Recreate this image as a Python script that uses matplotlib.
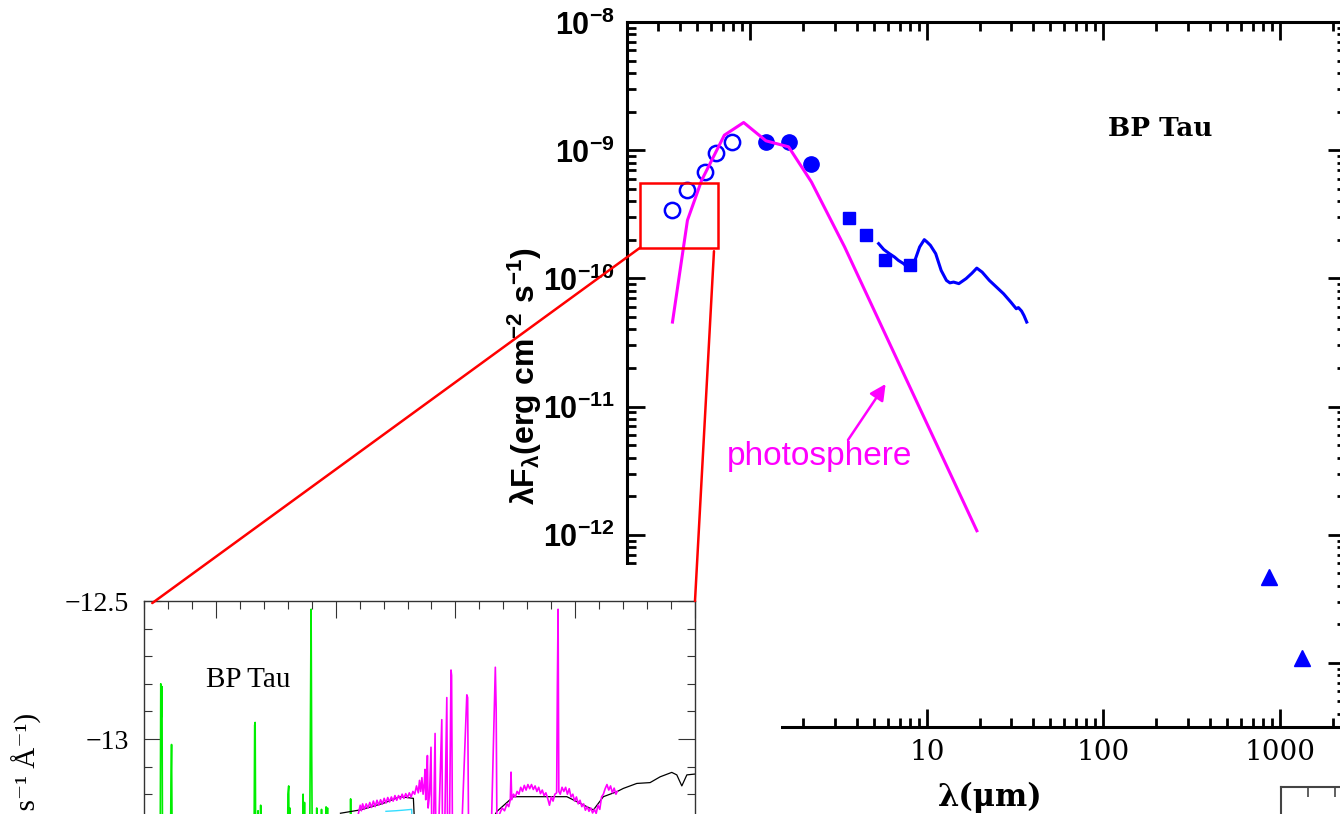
import numpy as np
import matplotlib.pyplot as plt
from matplotlib.patches import Rectangle, ConnectionPatch
from matplotlib.ticker import LogLocator, FuncFormatter, MultipleLocator, NullFormatter

plt.rcParams['mathtext.fontset'] = 'custom'
plt.rcParams['mathtext.rm'] = 'Liberation Sans:bold'
plt.rcParams['mathtext.it'] = 'Liberation Sans:bold'
plt.rcParams['mathtext.bf'] = 'Liberation Sans:bold'

# --- SED of BP Tau: wavelength (micron), lambda*F_lambda (erg cm^-2 s^-1) ---
opt_wl = [0.36, 0.44, 0.55, 0.64, 0.79]              # UBVRI
opt_flux = [3.40e-10, 4.87e-10, 6.76e-10, 9.53e-10, 1.15e-9]
nir_wl = [1.23, 1.65, 2.2]                            # JHK
nir_flux = [1.16e-9, 1.16e-9, 7.87e-10]
irac_wl = [3.6, 4.5, 5.8, 8.0]
irac_flux = [2.96e-10, 2.17e-10, 1.38e-10, 1.28e-10]
mm_wl = [870, 1330]
mm_flux = [4.72e-13, 1.10e-13]

# IRS spectrum
irs_wl = [5.33, 5.7, 6.13, 6.56, 6.9, 7.38, 7.65, 7.91, 8.2, 8.49, 9.10, 9.67,
          10.0, 10.47, 11.22, 12.05, 12.91, 13.5, 14.17, 15.18, 16.68, 18.0,
          19.18, 20.56, 22.6, 24.8, 27.2, 29.9, 32.1, 33.0, 34.4, 35.5, 36.8]
irs_logf = [-9.729, -9.775, -9.807, -9.834, -9.860, -9.885, -9.905, -9.924,
            -9.900, -9.873, -9.755, -9.698, -9.715, -9.742, -9.807, -9.938,
            -10.016, -10.035, -10.029, -10.041, -10.002, -9.960, -9.920, -9.951,
            -10.016, -10.068, -10.120, -10.185, -10.237, -10.228, -10.255,
            -10.290, -10.341]

# stellar photosphere
phot_wl = [0.362, 0.44, 0.53, 0.712, 0.916, 1.226, 1.647, 2.218, 3.42, 19.2]
phot_logf = [-10.341, -9.547, -9.234, -8.883, -8.784, -8.927, -8.974, -9.248,
             -9.755, -11.969]

# --- spectra in the inset: (wavelength in A, log F_lambda) ---
uv_spec = [(1400, -13.45), (1530, -13.45), (1536, -13.30), (1540, -12.80),
           (1545, -12.92), (1550, -12.81), (1555, -13.45), (1620, -13.45),
           (1625, -13.17), (1630, -13.02), (1636, -13.45), (2315, -13.45),
           (2320, -13.27), (2324, -12.95), (2328, -12.94), (2333, -13.45),
           (2348, -13.45), (2352, -13.26), (2356, -13.45), (2370, -13.45),
           (2374, -13.24), (2378, -13.45), (2596, -13.45), (2602, -13.20),
           (2608, -13.17), (2612, -13.40), (2618, -13.25), (2622, -13.45),
           (2627, -13.30), (2632, -13.45), (2722, -13.45), (2728, -13.20),
           (2734, -13.40), (2740, -13.23), (2745, -13.45), (2782, -13.45),
           (2788, -13.04), (2795, -12.53), (2800, -13.05), (2806, -13.45),
           (2838, -13.45), (2842, -13.25), (2848, -13.45), (2876, -13.45),
           (2882, -13.255), (2888, -13.45), (2915, -13.45), (2920, -13.246),
           (2926, -13.40), (2932, -13.25), (2936, -13.45), (3120, -13.45),
           (3125, -13.217), (3131, -13.45), (3160, -13.45)]

opt_spec = [(3190, -13.27), (3205, -13.24), (3215, -13.26), (3225, -13.235),
            (3240, -13.255), (3255, -13.235), (3270, -13.25), (3285, -13.23),
            (3300, -13.248), (3315, -13.225), (3330, -13.245), (3345, -13.222),
            (3360, -13.24), (3375, -13.22), (3390, -13.236), (3405, -13.215),
            (3420, -13.232), (3435, -13.212), (3450, -13.228), (3465, -13.21),
            (3480, -13.225), (3495, -13.205), (3510, -13.222), (3525, -13.205),
            (3540, -13.218), (3555, -13.2), (3570, -13.215), (3585, -13.198),
            (3600, -13.212), (3615, -13.195), (3630, -13.21), (3645, -13.19),
            (3660, -13.2), (3675, -13.17), (3690, -13.195), (3700, -13.15),
            (3710, -13.19), (3720, -13.14), (3730, -13.2), (3740, -13.16),
            (3746, -13.11), (3752, -13.22), (3760, -13.15), (3766, -13.06),
            (3772, -13.25), (3784, -13.2), (3796, -13.03), (3802, -13.30),
            (3818, -13.3), (3830, -12.98), (3836, -13.32), (3860, -13.33),
            (3886, -12.93), (3892, -13.33), (3910, -13.34), (3928, -12.85),
            (3934, -13.35), (3950, -13.35), (3963, -12.75), (3968, -12.77),
            (3975, -13.35), (4000, -13.36), (4050, -13.36), (4095, -12.84),
            (4102, -12.85), (4110, -13.36), (4200, -13.34), (4300, -13.32),
            (4333, -12.74), (4340, -12.89), (4346, -13.30), (4370, -13.27),
            (4390, -13.25), (4410, -13.26), (4430, -13.235), (4445, -13.245),
            (4458, -13.22), (4464, -13.12), (4470, -13.22), (4485, -13.2),
            (4500, -13.21), (4515, -13.19), (4530, -13.2), (4545, -13.175),
            (4560, -13.19), (4575, -13.168), (4590, -13.185), (4605, -13.165),
            (4620, -13.18), (4635, -13.165), (4650, -13.183), (4665, -13.17),
            (4680, -13.19), (4695, -13.175), (4710, -13.198), (4725, -13.185),
            (4740, -13.205), (4755, -13.195), (4770, -13.215), (4785, -13.24),
            (4800, -13.21), (4815, -13.225), (4830, -13.2), (4845, -13.195),
            (4851, -12.81), (4857, -12.53), (4863, -13.19), (4875, -13.2),
            (4890, -13.175), (4905, -13.19), (4920, -13.175), (4935, -13.2),
            (4950, -13.18), (4965, -13.21), (4980, -13.2), (4995, -13.225),
            (5010, -13.21), (5025, -13.235), (5040, -13.222), (5055, -13.245),
            (5070, -13.235), (5085, -13.258), (5100, -13.245), (5115, -13.262),
            (5130, -13.25), (5145, -13.268), (5160, -13.255), (5175, -13.27),
            (5190, -13.24), (5205, -13.255), (5220, -13.21), (5235, -13.2),
            (5250, -13.18), (5265, -13.165), (5280, -13.185), (5295, -13.17),
            (5310, -13.195), (5325, -13.178), (5340, -13.2), (5350, -13.19)]

model_wl = [3040, 3204, 3398, 3538, 3649, 3660, 4300, 4345, 4484, 4707, 4930,
            5041, 5152, 5235, 5347, 5402, 5514, 5625, 5709, 5806, 5848, 5890,
            5932, 6000]
model_logf = [-13.269, -13.257, -13.233, -13.209, -13.215, -13.32, -13.30,
              -13.263, -13.209, -13.209, -13.209, -13.233, -13.257, -13.209,
              -13.191, -13.179, -13.161, -13.158, -13.137, -13.121, -13.130,
              -13.170, -13.130, -13.127]

veil_wl = [3420, 3500, 3560, 3635, 3640]
veil_logf = [-13.262, -13.26, -13.258, -13.255, -13.35]

W, H = 1340, 814


def fx(px):
    return px / W


def fy(py):
    return 1 - py / H


fig = plt.figure(figsize=(13.4, 8.14), dpi=100)

# main SED panel
ax = fig.add_axes([fx(627), fy(727), 719 / W, 705 / H], zorder=0)
ax.set_xscale('log')
ax.set_yscale('log')
ax.set_xlim(0.2, 2370)
ax.set_ylim(10 ** -13.5, 1e-8)

ax.plot(opt_wl, opt_flux, 'o', mfc='none', mec='blue', ms=11, mew=1.8, zorder=3)
ax.plot(nir_wl, nir_flux, 'o', color='blue', ms=11, zorder=3)
ax.plot(irac_wl, irac_flux, 's', color='blue', ms=8, zorder=3)
ax.plot(mm_wl, mm_flux, '^', color='blue', ms=11, zorder=3)
ax.plot(irs_wl, 10 ** np.array(irs_logf), color='blue', lw=2.2, zorder=3)
ax.plot(phot_wl, 10 ** np.array(phot_logf), color='magenta', lw=2.2, zorder=4)

for s in ax.spines.values():
    s.set_linewidth(2.2)
ax.xaxis.set_major_locator(LogLocator(base=10, numticks=20))
ax.xaxis.set_minor_locator(LogLocator(base=10, subs=np.arange(2, 10), numticks=100))
ax.yaxis.set_major_locator(LogLocator(base=10, numticks=20))
ax.yaxis.set_minor_locator(LogLocator(base=10, subs=np.arange(2, 10), numticks=100))
ax.xaxis.set_minor_formatter(NullFormatter())
ax.yaxis.set_minor_formatter(NullFormatter())
ax.xaxis.set_major_formatter(FuncFormatter(lambda v, p: f'{v:g}'))
ax.yaxis.set_major_formatter(
    FuncFormatter(lambda v, p: r'$10^{%d}$' % int(round(np.log10(v)))))
ax.tick_params(which='both', direction='in', top=True, right=True, width=2)
ax.tick_params(which='major', length=13)
ax.tick_params(which='minor', length=6.5)
ax.tick_params(axis='y', labelsize=22, pad=9)
ax.tick_params(axis='x', labelsize=20, pad=9)
for t in ax.get_xticklabels():
    t.set_fontfamily('DejaVu Serif')

# zoom box on the optical part
box = Rectangle((0.238, 1.74e-10), 0.655 - 0.238, 5.5e-10 - 1.74e-10,
                fill=False, edgecolor='red', lw=1.8, zorder=5)
ax.add_patch(box)

ax.annotate('', xy=(5.84, 1.5e-11), xytext=(fx(848), fy(440)),
            textcoords='figure fraction',
            arrowprops=dict(arrowstyle='-|>', color='magenta', lw=1.8,
                            mutation_scale=24, shrinkA=0, shrinkB=0))
fig.text(fx(820), fy(457), 'photosphere', color='magenta', fontsize=24,
         family='Liberation Sans', ha='center', va='center')
fig.text(fx(1160), fy(128), 'BP Tau', fontsize=19, family='DejaVu Serif',
         weight='bold', ha='center', va='center')
fig.text(fx(525), fy(376), 'λF$_λ$(erg cm$^{-2}$ s$^{-1}$)', rotation=90,
         fontsize=23, family='Liberation Sans', weight='bold',
         ha='center', va='center')
fig.text(fx(990), fy(797), 'λ(μm)', fontsize=22, family='DejaVu Serif',
         weight='bold', ha='center', va='center')

# blank the lower-left corner for the inset
fig.add_artist(Rectangle((0, 0), fx(781), fy(565), transform=fig.transFigure,
                         facecolor='white', edgecolor='none', zorder=2))

# inset spectrum
ins = fig.add_axes([fx(144), fy(1015), 551 / W, 414 / H], zorder=3)
ins.set_xlim(1400, 6000)
ins.set_ylim(-14, -12.5)
uv_wl, uv_logf = zip(*uv_spec)
opt_spec_wl, opt_spec_logf = zip(*opt_spec)
ins.plot(uv_wl, uv_logf, color='#00ee00', lw=1.2)
ins.plot(veil_wl, veil_logf, color='#33ddff', lw=1.0)
ins.plot(model_wl, model_logf, color='black', lw=0.9)
ins.plot(opt_spec_wl, opt_spec_logf, color='magenta', lw=1.2)
for s in ins.spines.values():
    s.set_linewidth(1.0)
    s.set_color('#333333')
ins.xaxis.set_major_locator(MultipleLocator(1000))
ins.xaxis.set_minor_locator(MultipleLocator(200))
ins.yaxis.set_major_locator(MultipleLocator(0.5))
ins.yaxis.set_minor_locator(MultipleLocator(0.1))
ins.yaxis.set_major_formatter(
    FuncFormatter(lambda v, p: f'{v:g}'.replace('-', '\u2212')))
ins.tick_params(which='both', direction='in', top=True, right=True,
                width=0.8, color='#333333', labelbottom=False)
ins.tick_params(which='major', length=12)
ins.tick_params(which='minor', length=6)
ins.tick_params(axis='y', labelsize=20, pad=11)
for t in ins.get_yticklabels():
    t.set_fontfamily('Liberation Serif')
ins.text(2268, -12.786, 'BP Tau', fontsize=21, family='Liberation Serif',
         ha='center', va='center')
fig.text(fx(27), fy(713), 'log Fλ (erg cm⁻² s⁻¹ Å⁻¹)', rotation=90,
         fontsize=21, family=['Liberation Serif', 'DejaVu Serif'],
         ha='center', va='top', zorder=4)

# lines from the zoom box to the inset
for xa, xb in [((0.238, 1.74e-10), (0.015, 0.995)),
               ((0.622, 1.63e-10), (1.0, 1.0))]:
    con = ConnectionPatch(xyA=xa, coordsA=ax.transData, xyB=xb,
                          coordsB=ins.transAxes, color='red', lw=1.8)
    con.set_zorder(5)
    fig.add_artist(con)

# corner of the neighbouring panel
ax3 = fig.add_axes([fx(1281), fy(787) - 0.2, 0.1, 0.2], zorder=1)
ax3.set_xlim(0, 1)
ax3.set_xticks([0.2, 0.4])
ax3.set_yticks([])
ax3.spines['right'].set_visible(False)
ax3.spines['bottom'].set_visible(False)
for s in ('top', 'left'):
    ax3.spines[s].set_linewidth(1.5)
    ax3.spines[s].set_color('#444444')
ax3.tick_params(axis='x', top=True, bottom=False, labelbottom=False,
                direction='in', length=7, width=1.2, color='#444444')

fig.savefig('out.png', dpi=100)
